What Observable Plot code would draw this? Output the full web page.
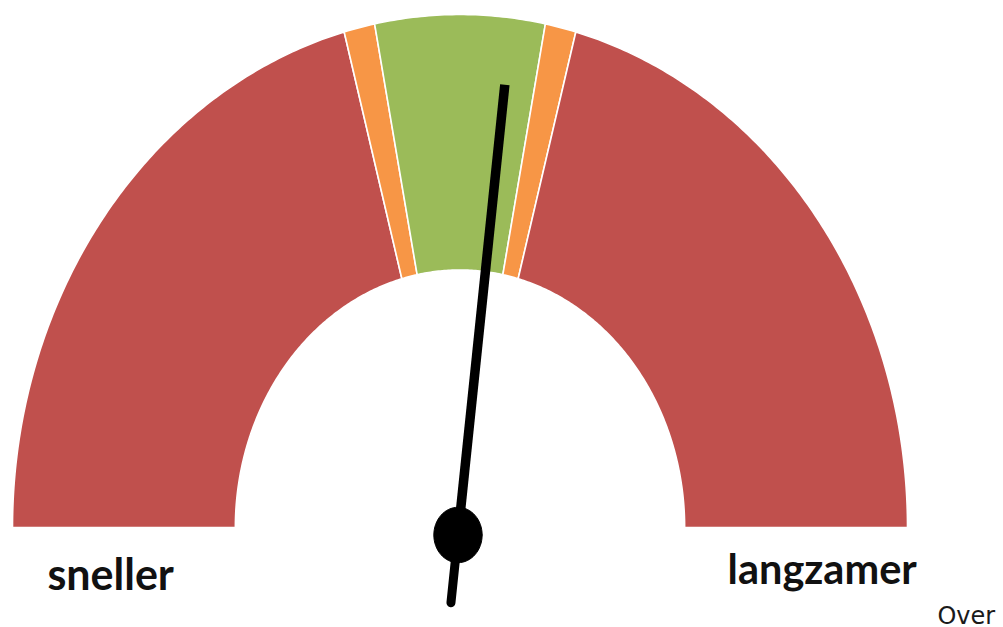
<!DOCTYPE html>
<html>
<head>
<meta charset="utf-8">
<script src="https://cdn.jsdelivr.net/npm/d3@7"></script>
<script src="https://cdn.jsdelivr.net/npm/@observablehq/plot@0.6"></script>
<style>
  html, body { margin: 0; padding: 0; background: #fff; overflow: hidden; }
  #chart svg { display: block; }
</style>
</head>
<body>
<div id="chart"></div>
<script>
// Gauge bands, in degrees of the half circle, from left ("sneller") to right ("langzamer")
const bandNames = ["te snel", "marge snel", "goed", "marge langzaam", "te langzaam"];
const bandSpans = [75, 4, 22, 4, 75];
const bandColors = ["#C0504D", "#F79646", "#9BBB59", "#F79646", "#C0504D"];

// Needle position, in degrees from the left end of the dial
const needleValue = 96.8;

// End labels
const endLabels = ["sneller", "langzamer"];
const footLabel = "Over";

// Dial geometry in gauge units (outer radius = 1)
const innerRadius = 0.502;
const hub = {x: -0.0045, y: -0.0146, r: 0.054};
const needleLength = 0.884;
const tailLength = 0.133;

const toRad = d => (180 - d) * Math.PI / 180;

// Build one closed ring-sector outline per band
const bandPoints = [];
let start = 0;
bandSpans.forEach((span, i) => {
  const end = start + span;
  const steps = Math.max(8, Math.round(span * 2));
  const pts = [];
  for (let k = 0; k <= steps; k++) {
    const a = toRad(start + (end - start) * k / steps);
    pts.push({x: Math.cos(a), y: Math.sin(a)});
  }
  for (let k = steps; k >= 0; k--) {
    const a = toRad(start + (end - start) * k / steps);
    pts.push({x: innerRadius * Math.cos(a), y: innerRadius * Math.sin(a)});
  }
  pts.push(pts[0]);
  pts.forEach(p => bandPoints.push({...p, band: bandNames[i], color: bandColors[i]}));
  start = end;
});

// Needle from the hub towards the value, with a short tail behind it
const na = toRad(needleValue);
const needleTip = [
  {x: hub.x, y: hub.y},
  {x: hub.x + needleLength * Math.cos(na), y: hub.y + needleLength * Math.sin(na)}
];
const needleTail = [
  {x: hub.x, y: hub.y},
  {x: hub.x - tailLength * Math.cos(na), y: hub.y - tailLength * Math.sin(na)}
];
const hubPoints = d3.range(0, 65).map(k => {
  const a = k / 64 * 2 * Math.PI;
  return {x: hub.x + hub.r * Math.cos(a), y: hub.y + hub.r * Math.sin(a)};
});

const W = 1003, H = 627;
const cx = 459.5, cy = 527, rx = 447.5, ry = 513;

const chart = Plot.plot({
  width: W,
  height: H,
  margin: 0,
  x: {domain: [-cx / rx, (W - cx) / rx], axis: null},
  y: {domain: [(cy - H) / ry, cy / ry], axis: null},
  color: {type: "identity"},
  marks: [
    Plot.line(bandPoints, {
      x: "x", y: "y", z: "band",
      fill: "color", stroke: "#fff", strokeWidth: 1.6, strokeLinejoin: "miter"
    }),
    Plot.line(needleTail, {x: "x", y: "y", stroke: "#000", strokeWidth: 9, strokeLinecap: "round"}),
    Plot.line(needleTip, {x: "x", y: "y", stroke: "#000", strokeWidth: 9.5, strokeLinecap: "butt"}),
    Plot.line(hubPoints, {x: "x", y: "y", fill: "#000", stroke: "#000", strokeWidth: 1}),
    Plot.text([endLabels[0]], {
      x: -0.922, y: -0.1228, text: d => d,
      textAnchor: "start", lineAnchor: "bottom",
      fontFamily: "Lato", fontWeight: "bold", fontSize: 43, fill: "#111"
    }),
    Plot.text([endLabels[1]], {
      x: 0.598, y: -0.1092, text: d => d,
      textAnchor: "start", lineAnchor: "bottom",
      fontFamily: "Lato", fontWeight: "bold", fontSize: 41.5, fill: "#111"
    }),
    Plot.text([footLabel], {
      x: 1.067, y: -0.188, text: d => d,
      textAnchor: "start", lineAnchor: "bottom",
      fontFamily: "DejaVu Sans", fontSize: 24, fill: "#1a1a1a"
    })
  ]
});

document.getElementById("chart").appendChild(chart);
</script>
</body>
</html>
